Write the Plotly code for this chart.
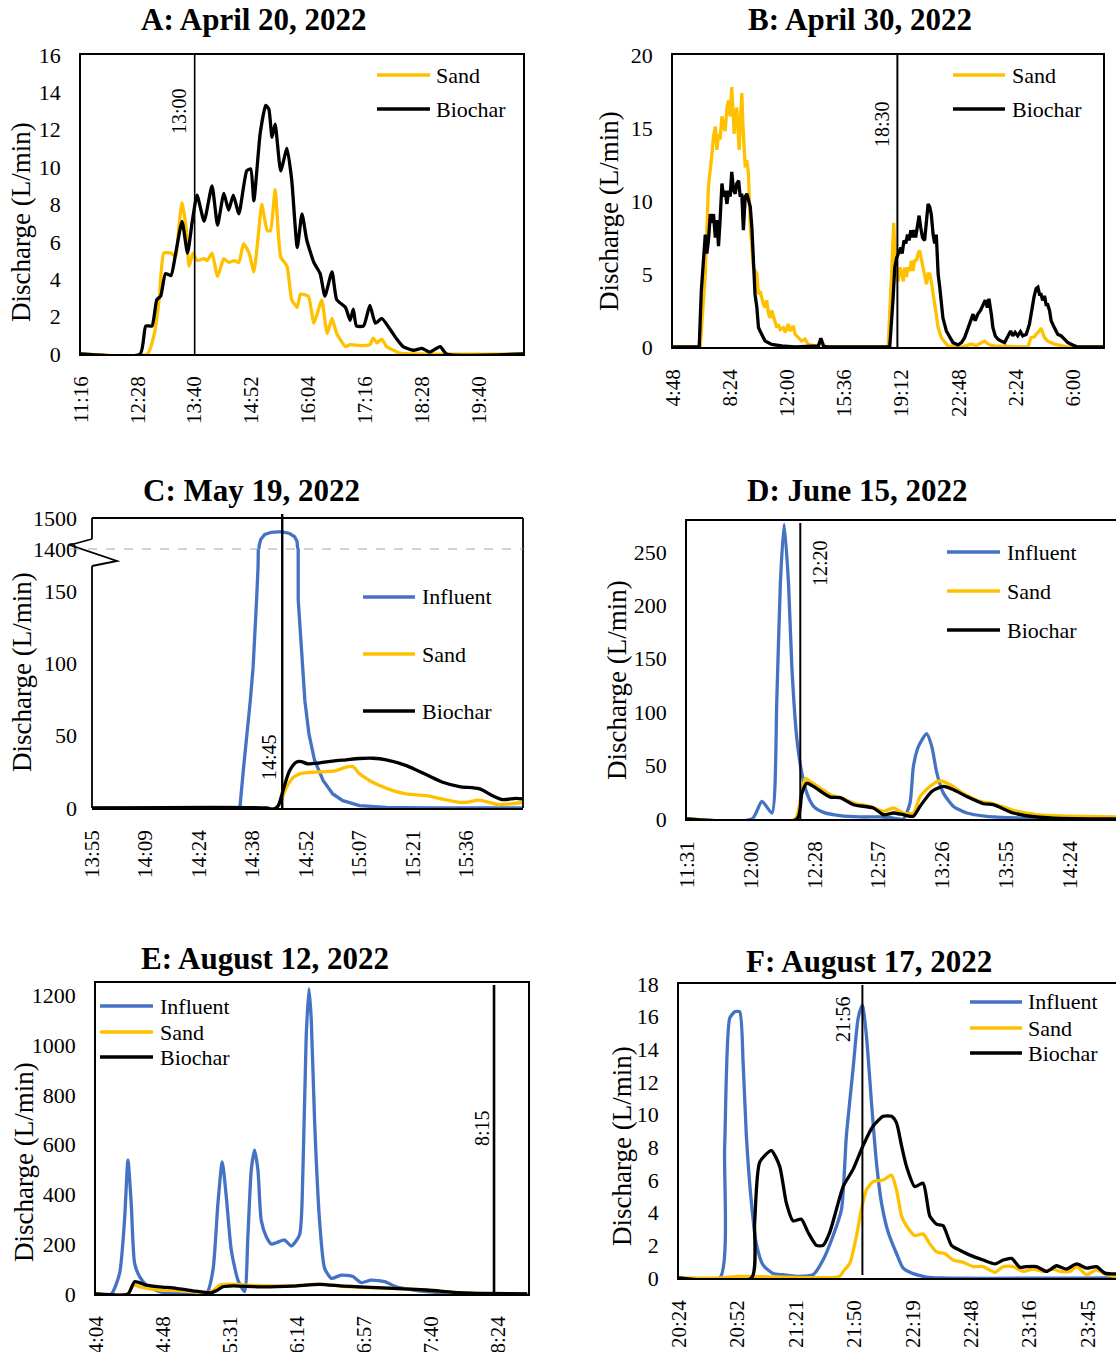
import plotly.graph_objects as go

# ---------------------------------------------------------------------------
# Discharge data (L/min); time axis in minutes after the first tick of each
# panel.
# ---------------------------------------------------------------------------

# A: April 20, 2022 (start 11:16)
a_ticks = ["11:16", "12:28", "13:40", "14:52", "16:04", "17:16", "18:28", "19:40"]
a_sand_t = [0, 84, 93, 99, 105, 114, 120, 124, 128, 133, 137, 142, 147, 156, 160, 166, 173, 181, 187, 194,
            200, 206, 213, 219, 225, 229, 236, 240, 246, 253, 261, 267, 274, 278, 288, 295, 301, 305, 312, 318,
            324, 335, 341, 354, 366, 370, 375, 381, 387, 396, 404, 421, 560]
a_sand_q = [0, 0, 1.1, 2.9, 5.4, 5.4, 5.2, 6.8, 8.1, 6.8, 4.7, 5.4, 5.0, 5.1, 5.0, 5.4, 4.15, 5.1, 4.9, 5.0,
            4.9, 5.9, 5.4, 4.4, 6.5, 8.0, 6.6, 6.6, 8.8, 5.2, 4.7, 2.9, 2.5, 3.2, 3.1, 1.65, 2.4, 2.9, 1.1, 1.9,
            1.1, 0.4, 0.5, 0.45, 0.5, 0.85, 0.6, 0.8, 0.4, 0.2, 0.05, 0, 0]
a_bio_t = [0, 75, 82, 90, 96, 101, 107, 114, 120, 128, 135, 141, 147, 156, 166, 173, 181, 187, 193, 200,
           210, 215, 219, 227, 234, 238, 242, 246, 253, 261, 267, 274, 280, 286, 295, 303, 309, 318, 324, 335,
           341, 345, 349, 358, 366, 373, 381, 392, 400, 408, 421, 432, 442, 455, 463, 560]
a_bio_q = [0, 0, 1.5, 1.5, 2.9, 3.1, 4.3, 4.2, 5.4, 7.1, 5.4, 7.1, 8.5, 7.1, 9.0, 6.9, 8.6, 7.7, 8.5, 7.5,
           9.8, 9.9, 8.2, 11.8, 13.3, 13.1, 11.6, 12.3, 9.8, 11.0, 9.3, 5.7, 7.5, 6.1, 4.9, 4.3, 3.1, 4.4, 2.9, 2.5,
           1.8, 2.4, 1.5, 1.5, 2.6, 1.65, 1.9, 1.3, 0.8, 0.4, 0.2, 0.3, 0.1, 0.4, 0, 0]
a_event_t = 144

# B: April 30, 2022 (start 4:48)
b_ticks = ["4:48", "8:24", "12:00", "15:36", "19:12", "22:48", "2:24", "6:00"]
b_sand_t = [0, 103, 122, 134, 147, 153, 160, 166, 172, 178, 185, 191, 197, 204, 210, 216, 222, 226, 231, 235,
            241, 245, 250, 255, 260, 264, 268, 273, 279, 285, 292, 298, 304, 317, 323, 329, 336, 342, 348, 354,
            361, 367, 373, 386, 392, 398, 405, 417, 424, 436, 442, 455, 461, 474, 486, 499, 511, 537, 555, 562,
            575, 587,
            813, 826, 834, 842, 851, 857, 863, 870, 876, 882, 889, 895, 901, 907, 914, 920, 926, 932, 939, 945,
            951, 958, 964, 970, 976, 983, 989, 995, 1002, 1014, 1027, 1039, 1090, 1115, 1127, 1146, 1165, 1177,
            1196, 1215, 1341, 1353, 1366, 1372, 1385, 1391, 1404, 1416, 1441, 1492, 1625]
b_sand_q = [0, 0, 5.0, 11.0, 13.2, 14.4, 15.1, 13.5, 14.6, 14.2, 15.8, 15.1, 14.8, 16.4, 16.9, 15.8, 17.8, 16.7,
            14.6, 15.8, 16.4, 15.1, 13.5, 15.5, 17.4, 15.3, 14.2, 12.3, 12.8, 11.9, 8.2, 6.6, 5.45, 5.0, 3.6, 3.85,
            3.2, 2.9, 2.7, 3.2, 2.25, 2.0, 2.5, 1.8, 1.33, 1.56, 1.2, 1.33, 1.0, 1.56, 1.1, 1.44, 0.87, 0.64, 0.41,
            0.53, 0.18, 0.07, 0.1, 0.3, 0.05, 0,
            0, 5.0, 8.5, 5.0, 4.5, 5.45, 5.2, 4.5, 5.45, 4.8, 5.45, 5.2, 5.9, 5.2, 6.0, 5.9, 6.4, 6.6, 5.9, 5.45,
            5.0, 4.3, 5.0, 5.0, 4.5, 3.6, 2.9, 2.25, 1.33, 0.64, 0.3, 0.07, 0, 0.1, 0.2, 0.1, 0.3, 0.4, 0.15, 0.07,
            0, 0.64, 0.7, 0.87, 1.1, 1.3, 0.64, 0.4, 0.2, 0, 0]
b_bio_t = [0, 99, 107, 122, 128, 134, 141, 147, 153, 160, 166, 172, 178, 185, 191, 197, 204, 210, 216, 222,
           229, 235, 241, 248, 254, 260, 266, 273, 279, 285, 292, 298, 304, 310, 317, 323, 329, 336, 348, 373,
           411, 461, 549, 559, 569, 587,
           819, 832, 838, 845, 853, 861, 866, 873, 880, 886, 892, 899, 905, 911, 917, 924, 930, 936, 943, 951,
           958, 964, 970, 976, 983, 989, 995, 1002, 1008, 1014, 1020, 1033, 1046, 1058, 1077, 1090, 1102, 1115,
           1127, 1134, 1142, 1152, 1162, 1171, 1180, 1188, 1194, 1203, 1209, 1218, 1228, 1240, 1253, 1266, 1276,
           1284, 1293, 1303, 1313, 1322, 1335, 1347, 1356, 1364, 1372, 1379, 1385, 1391, 1397, 1404, 1410, 1416,
           1423, 1429, 1441, 1454, 1467, 1479, 1492, 1511, 1529, 1625]
b_bio_q = [0, 0, 3.85, 7.7, 6.4, 7.3, 9.1, 8.5, 9.1, 7.5, 8.7, 6.9, 8.7, 11.2, 10.3, 10.7, 9.8, 10.7, 10.3, 12.0,
           10.7, 10.5, 11.2, 11.4, 10.3, 10.5, 8.0, 10.3, 10.5, 10.0, 9.6, 8.2, 5.9, 3.6, 2.7, 1.33, 1.1, 0.87,
           0.41, 0.18, 0.07, 0, 0.07, 0.6, 0.05, 0,
           0, 3.4, 5.45, 6.1, 6.4, 6.8, 6.4, 7.3, 7.1, 7.7, 7.3, 8.0, 7.5, 8.0, 7.5, 8.3, 9.0, 8.2, 7.5, 7.3,
           8.7, 9.8, 9.6, 9.1, 7.7, 7.1, 7.7, 5.0, 4.1, 2.9, 2.0, 1.1, 0.64, 0.3, 0.14, 0.3, 0.64, 1.33, 1.9, 2.25,
           1.8, 2.25, 2.5, 2.9, 3.2, 2.7, 3.3, 2.25, 1.33, 0.76, 0.53, 0.41, 0.3, 0.76, 1.1, 0.76, 1.0, 0.76, 1.05,
           0.76, 0.87, 1.56, 2.7, 3.4, 4.0, 4.1, 3.6, 3.6, 3.2, 3.5, 2.9, 2.9, 2.5, 1.8, 1.33, 0.87, 0.76, 0.53,
           0.3, 0.14, 0, 0]
b_event_t = 848

# C: May 19, 2022 (start 13:55) - broken axis, 0-179 and 1400-1500
c_ticks = ["13:55", "14:09", "14:24", "14:38", "14:52", "15:07", "15:21", "15:36"]
c_inf_t = [0, 39.8, 40.8, 41.8, 42.6, 43.35, 43.9, 44.3, 44.7, 44.96, 45.4, 46.5, 48.3, 51.0, 53.2, 54.5, 55.2,
           55.3, 55.5, 56.1, 56.6, 57.3, 58.4, 59.9, 62.2, 64.8, 67.5, 72.0, 79.2, 90, 116]
c_inf_q = [0, 0, 28, 51, 74, 97, 121, 144, 167, 1408, 1431, 1447, 1454, 1456, 1450, 1440, 1424,
           1408, 144, 121, 97, 74, 51, 33, 19, 9.7, 5.1, 1.6, 0.5, 0, 0]
c_sand_t = [0, 49.6, 50.5, 52.3, 54.1, 55.9, 59.5, 63.1, 65.7, 68.4, 70.2, 72.0, 74.7, 77.4, 81.0, 84.6, 89.9,
            94.4, 98.9, 100.7, 104.3, 106.9, 109.6, 112.3, 116.3]
c_sand_q = [0, 0, 2.8, 14, 21, 23.6, 24.7, 25.2, 25.9, 28.2, 28.7, 23.6, 19, 15.5, 12, 9.7, 8.5,
            6.2, 3.9, 3.9, 5.5, 3.9, 2.3, 2.8, 3.9]
c_bio_t = [0, 47, 48.7, 50.1, 51.4, 53.2, 55.0, 56.3, 58.1, 61.3, 64.8, 68.4, 72.0, 75.6, 79.2, 84.6, 89.9,
           94.4, 98.9, 104.3, 107.8, 110.5, 114.1, 116.3]
c_bio_q = [0, 0, -0.8, 1.6, 12, 25.9, 31.7, 32.1, 30.5, 31.2, 32.4, 33.3, 34.2, 34.4, 33.3, 29.3, 23.1,
           17.8, 14.8, 13.2, 8.5, 5.8, 6.7, 6.2]
c_event_t = 51.2

# D: June 15, 2022 (start 11:31)
d_ticks = ["11:31", "12:00", "12:28", "12:57", "13:26", "13:55", "14:24"]
d_inf_t = [0, 29.3, 33.8, 38.3, 40.5, 42.1, 43.8, 45.8, 47.3, 49.6, 51.8, 54.1, 57.1, 61.6, 69.1, 78.1, 87.1,
           93.1, 97.6, 100.6, 102.1, 104.4, 108.1, 110.4, 112.7, 115.7, 120.2, 126.2, 135.2, 150.2, 165.2, 195]
d_inf_q = [0, 0, 16.5, 5.6, 111, 220, 276, 220, 142, 74, 43, 24, 11.8, 6.2, 3.1, 1.9, 1.9,
           0.9, 0, 15, 49, 68, 80, 68, 43, 24, 11.8, 5.6, 2.5, 0.9, 0, 0]
d_sand_t = [0, 48.8, 51.1, 53.3, 55.6, 60.1, 64.6, 69.1, 75.1, 82.6, 88.6, 93.1, 97.6, 102.1, 105.1, 109.6,
            114.2, 118.7, 124.7, 132.2, 138.2, 147.2, 157.7, 165.2, 180.3, 193.5]
d_sand_q = [0, 0, 18, 38, 35, 29, 22.7, 20, 15, 11.8, 7.2, 10.3, 5.6, 5.6, 21, 30.5,
            35.8, 32, 24, 16.5, 14.3, 8.1, 4, 3.1, 2.5, 1.9]
d_bio_t = [0, 49.6, 51.8, 54.1, 57.1, 61.6, 64.6, 69.1, 75.1, 84.1, 88.6, 93.1, 97.6, 102.1, 105.1, 110.4,
           115.7, 120.2, 126.2, 133.7, 138.2, 147.2, 157.7, 165.2, 193.5]
d_bio_q = [0, 0, 24, 33.6, 30.5, 24, 20.5, 20, 13.4, 10.3, 4, 5.6, 4, 2.5, 11.8, 25.8,
           30.5, 27.4, 21, 14.3, 13.4, 5.6, 1.9, 0.9, 0]
d_event_t = 51.1

# E: August 12, 2022 (start 4:04)
e_ticks = ["4:04", "4:48", "5:31", "6:14", "6:57", "7:40", "8:24"]
e_inf_t = [0, 9.8, 15.2, 18.4, 20.6, 22.7, 24.9, 28.1, 32.4, 41.0, 51.7, 71.1, 75.4, 78.6, 81.4, 84.0, 87.2,
           91.5, 95.8, 97.9, 100.1, 102.2, 104.4, 106.5, 109.8, 113.0, 116.2, 121.6, 125.9, 131.2, 133.4, 135.5,
           137.3, 138.8, 140.9, 144.1, 147.4, 151.7, 158.1, 165.6, 171.0, 177.5, 186.1, 193.6, 202.2, 212.9,
           223.7, 234.4, 278]
e_inf_q = [0, 0, 83, 297, 538, 364, 123, 70, 36, 9.4, 2.7, 0, 96, 364, 531, 391, 177,
           56, 9.4, 230, 498, 578, 498, 297, 230, 201, 206, 217, 193, 237, 498, 1033,
           1227, 1100, 698, 297, 103, 63, 76, 70, 45.5, 56, 49.5, 29, 18.7, 9.4,
           5, 2.7, 0]
e_sand_t = [0, 20.6, 23.8, 28.1, 41.0, 58.2, 71.1, 75.4, 79.7, 88.3, 96.9, 114.1, 127.0, 144.1, 157.0, 169.9,
            191.4, 212.9, 234.4, 245.2, 278]
e_sand_q = [0, 0, 36, 29, 16, 13, 5, 13, 36, 40, 36, 33, 33, 40, 32, 27, 23, 16, 5, 2.7, 0]
e_bio_t = [0, 20.6, 24.9, 32.4, 41.0, 51.7, 62.5, 74.3, 77.5, 81.8, 88.3, 105.5, 127.0, 144.1, 159.2, 169.9,
           191.4, 212.9, 234.4, 245.2, 278]
e_bio_q = [0, 0, 49.5, 36, 29, 23, 13, 5, 13, 29, 33, 29, 32, 39, 32, 29, 23, 16, 5, 2.7, 0]
e_event_t = 256.6

# F: August 17, 2022 (start 20:24)
f_ticks = ["20:24", "20:52", "21:21", "21:50", "22:19", "22:48", "23:16", "23:45"]
f_inf_t = [0, 20.1, 22.5, 25.0, 27.5, 29.9, 31.6, 33.2, 35.7, 38.1, 41.4, 46.4, 51.3, 57.9, 66.1, 71.0, 76.0,
           80.1, 82.5, 85.8, 88.3, 90.4, 92.4, 94.9, 97.3, 99.8, 103.1, 107.2, 110.5, 115.4, 122.0, 128.6, 215.4]
f_inf_q = [0, 0, 8.0, 15.9, 16.3, 16.3, 13.2, 8.7, 4.6, 2.1, 0.8, 0.27, 0.2, 0.1, 0.2, 1.1, 2.6,
           4.2, 8.7, 12.8, 15.9, 16.7, 14.8, 10.7, 7.1, 4.6, 2.8, 1.5, 0.6, 0.27, 0.06, 0, 0]
f_sand_t = [0, 20, 29.9, 79.2, 80.9, 84.2, 87.5, 89.9, 92.4, 95.7, 100.6, 104.7, 107.2, 109.7, 112.1, 116.2,
            120.3, 123.6, 126.9, 131.0, 135.1, 140.1, 145.0, 149.9, 155.7, 159.8, 164.7, 169.7, 174.6, 179.5,
            184.5, 187.7, 192.7, 196.0, 200.9, 205.8, 210.8, 215.4]
f_sand_q = [0, 0, 0.1, 0.1, 0.4, 0.9, 2.6, 4.2, 5.4, 5.9, 6.0, 6.3, 5.4, 3.8, 3.2, 2.6,
            2.7, 2.1, 1.6, 1.5, 1.1, 0.96, 0.7, 0.7, 0.35, 0.7, 0.7, 0.4, 0.55, 0.4,
            0.55, 0.4, 0.4, 0.7, 0.2, 0.5, 0.2, 0.1]
f_bio_t = [0, 35.7, 37.3, 39.8, 45.5, 49.6, 52.9, 56.2, 60.3, 63.6, 67.7, 71.0, 74.3, 77.6, 80.9, 85.8, 90.7,
           95.7, 100.6, 104.7, 107.2, 109.7, 112.1, 116.2, 120.3, 123.6, 126.9, 130.2, 134.3, 138.4, 143.4,
           149.9, 155.7, 159.8, 163.9, 168.0, 171.3, 176.2, 181.2, 186.1, 191.0, 196.0, 200.9, 205.8, 209.9, 215.4]
f_bio_q = [0, 0, 3.4, 7.1, 7.8, 6.85, 4.6, 3.5, 3.6, 2.8, 2.0, 2.0, 2.8, 4.2, 5.6, 6.65, 8.1,
           9.3, 9.9, 9.9, 9.5, 8.1, 6.85, 5.6, 5.8, 3.8, 3.3, 3.2, 2.0, 1.7, 1.4,
           1.1, 0.86, 1.1, 1.2, 0.65, 0.7, 0.7, 0.4, 0.75, 0.55, 0.86, 0.6, 0.7, 0.3, 0.25]
f_event_t = 90.4

# ---------------------------------------------------------------------------
# Styling and page geometry
# ---------------------------------------------------------------------------
W, H = 1116, 1352
FONT = "Liberation Serif, Times New Roman, Times, serif"
BLUE, GOLD, BLACK = "#4472C4", "#FFC000", "#000000"
LINE_W = 3.3
FRAME_W = 1.8


def X(p):
    return p / W


def Y(p):
    return 1 - p / H


fig = go.Figure()


def add_series(t, q, color, xa, ya, shape="spline", smoothing=0.6):
    fig.add_trace(go.Scatter(
        x=t, y=q, mode="lines", xaxis=xa, yaxis=ya, showlegend=False, hoverinfo="skip",
        line=dict(color=color, width=LINE_W, shape=shape,
                  smoothing=smoothing if shape == "spline" else None)))


# A
add_series(a_sand_t, a_sand_q, GOLD, "x", "y", smoothing=0.5)
add_series(a_bio_t, a_bio_q, BLACK, "x", "y", smoothing=0.5)
# B
add_series(b_sand_t, b_sand_q, GOLD, "x2", "y2", shape="linear")
add_series(b_bio_t, b_bio_q, BLACK, "x2", "y2", shape="linear")
# C (influent drawn on both halves of the broken axis)
add_series(c_inf_t, c_inf_q, BLUE, "x3", "y3", shape="linear")
add_series(c_inf_t, c_inf_q, BLUE, "x3", "y7", shape="linear")
add_series(c_sand_t, c_sand_q, GOLD, "x3", "y3", smoothing=0.8)
add_series(c_bio_t, c_bio_q, BLACK, "x3", "y3", smoothing=0.8)
# D
add_series(d_inf_t, d_inf_q, BLUE, "x4", "y4", smoothing=0.6)
add_series(d_sand_t, d_sand_q, GOLD, "x4", "y4", smoothing=0.6)
add_series(d_bio_t, d_bio_q, BLACK, "x4", "y4", smoothing=0.6)
# E
add_series(e_inf_t, e_inf_q, BLUE, "x5", "y5", smoothing=0.6)
add_series(e_sand_t, e_sand_q, GOLD, "x5", "y5", smoothing=0.6)
add_series(e_bio_t, e_bio_q, BLACK, "x5", "y5", smoothing=0.6)
# F
add_series(f_inf_t, f_inf_q, BLUE, "x6", "y6", smoothing=0.6)
add_series(f_sand_t, f_sand_q, GOLD, "x6", "y6", smoothing=0.6)
add_series(f_bio_t, f_bio_q, BLACK, "x6", "y6", smoothing=0.6)

TICKFONT_X = dict(family=FONT, size=21, color="black")
TICKFONT_Y = dict(family=FONT, size=22, color="black")


def xaxis(box, rng, step, labels, anchor, mirror=True, showline=True):
    return dict(domain=[X(box[0]), X(box[1])], range=rng, anchor=anchor, automargin=False,
                tickmode="array", tickvals=[i * step for i in range(len(labels))], ticktext=labels,
                tickangle=-90, tickfont=TICKFONT_X, ticks="", ticklabelstandoff=12,
                showline=showline, linecolor="black", linewidth=FRAME_W, mirror=mirror,
                showgrid=False, zeroline=False, fixedrange=True)


def yaxis(box, rng, vals, anchor, mirror=True, showline=True):
    return dict(domain=[Y(box[1]), Y(box[0])], range=rng, anchor=anchor, automargin=False,
                tickmode="array", tickvals=vals, tickfont=TICKFONT_Y, ticks="", ticklabelstandoff=14,
                showline=showline, linecolor="black", linewidth=FRAME_W, mirror=mirror,
                showgrid=False, zeroline=False, fixedrange=True)


# Plot boxes in page pixels: (left, right) and (top, bottom)
A_X, A_Y = (81, 523), (55, 354)
B_X, B_Y = (673, 1103), (55, 347)
C_X, C_Y, C_BREAK = (92, 523), (518, 808), 549
D_X, D_Y = (687, 1116), (521, 819)
E_X, E_Y = (96, 528), (983, 1294)
F_X, F_Y = (679, 1116), (984, 1278)

layout = dict(
    width=W, height=H, autosize=False,
    margin=dict(l=0, r=0, t=0, b=0, pad=0, autoexpand=False),
    paper_bgcolor="white", plot_bgcolor="white", showlegend=False,
    font=dict(family=FONT, color="black"),
    xaxis=xaxis(A_X, [0, 560], 72, a_ticks, "y"),
    yaxis=yaxis(A_Y, [0, 16], list(range(0, 17, 2)), "x"),
    xaxis2=xaxis(B_X, [0, 1625], 216, b_ticks, "y2"),
    yaxis2=yaxis(B_Y, [0, 20], [0, 5, 10, 15, 20], "x2"),
    xaxis3=xaxis(C_X, [0, 116], 14.4, c_ticks, "y3", mirror=False),
    yaxis3=yaxis((C_BREAK, C_Y[1]), [0, 179], [0, 50, 100, 150], "x3", showline=False),
    yaxis7=yaxis((C_Y[0], C_BREAK), [1400, 1500], [1400, 1500], "x3", showline=False),
    xaxis4=xaxis(D_X, [0, 193.5], 28.8, d_ticks, "y4"),
    yaxis4=yaxis(D_Y, [0, 279], [0, 50, 100, 150, 200, 250], "x4", mirror=False),
    xaxis5=xaxis(E_X, [0, 278.5], 43.2, e_ticks, "y5"),
    yaxis5=yaxis(E_Y, [0, 1250], list(range(0, 1201, 200)), "x5"),
    xaxis6=xaxis(F_X, [0, 215.4], 28.8, f_ticks, "y6"),
    yaxis6=yaxis(F_Y, [0, 18], list(range(0, 19, 2)), "x6", mirror=False),
)
fig.update_layout(**layout)

shapes = []
annotations = []


def paper_line(x0, y0, x1, y1, color="black", width=FRAME_W, dash=None):
    shapes.append(dict(type="line", xref="paper", yref="paper", x0=X(x0), y0=Y(y0), x1=X(x1), y1=Y(y1),
                       line=dict(color=color, width=width, dash=dash), layer="above"))


# Frame of panel C with the axis break on the left side
paper_line(C_X[0], C_Y[0], C_X[1], C_Y[0])
paper_line(C_X[1], C_Y[0], C_X[1], C_Y[1])
paper_line(C_X[0], C_Y[0], C_X[0], 539)
paper_line(C_X[0], 566, C_X[0], C_Y[1])
zig = [(92, 539), (70, 545), (117, 561), (92, 566)]
shapes.append(dict(type="path", xref="paper", yref="paper",
                   path="M " + " L ".join(f"{X(px):.5f},{Y(py):.5f}" for px, py in zig),
                   line=dict(color="black", width=FRAME_W), layer="above"))
paper_line(70, C_BREAK, C_X[1], C_BREAK, color="#A6A6A6", width=1.2, dash="dash")

# Event marker lines
for xa, t, y_top, y_bot, w in [("x", a_event_t, A_Y[0], A_Y[1], 1.6),
                               ("x2", b_event_t, B_Y[0], B_Y[1], 2),
                               ("x3", c_event_t, 514, C_Y[1], 2.4),
                               ("x4", d_event_t, 523, D_Y[1], 2),
                               ("x5", e_event_t, 985, E_Y[1], 2.6),
                               ("x6", f_event_t, 985, 1275, 2)]:
    shapes.append(dict(type="line", xref=xa, yref="paper", x0=t, x1=t, y0=Y(y_bot), y1=Y(y_top),
                       line=dict(color="black", width=w), layer="above"))


def text(x, y, s, size, angle=0, xanchor="center", bold=False):
    annotations.append(dict(xref="paper", yref="paper", x=X(x), y=Y(y), text=f"<b>{s}</b>" if bold else s,
                            showarrow=False, textangle=angle, xanchor=xanchor, yanchor="middle",
                            font=dict(family=FONT, size=size, color="black")))


# Event marker labels
text(179, 111, "13:00", 20, angle=-90)
text(882, 124, "18:30", 20, angle=-90)
text(269, 757, "14:45", 20, angle=-90)
text(820, 563, "12:20", 20, angle=-90)
text(482, 1128, "8:15", 20, angle=-90)
text(843, 1019, "21:56", 20, angle=-90)

# Panel titles
text(254, 20, "A: April 20, 2022", 31, bold=True)
text(860, 20, "B: April 30, 2022", 31, bold=True)
text(251, 491, "C: May 19, 2022", 31, bold=True)
text(857, 491, "D: June 15, 2022", 31, bold=True)
text(265, 958, "E: August 12, 2022", 31, bold=True)
text(869, 961, "F: August 17, 2022", 31, bold=True)

# Axis titles
for x, y in [(21, 222), (609, 211), (22, 672), (617, 680), (24, 1162), (622, 1146)]:
    text(x, y, "Discharge (L/min)", 27, angle=-90)

# Legends: (line start, line end, text x, [(y, label), ...])
SERIES_COLOURS = {"Influent": BLUE, "Sand": GOLD, "Biochar": BLACK}
legends = [
    (377, 430, 434, [(75, "Sand"), (109, "Biochar")]),
    (953, 1005, 1010, [(75, "Sand"), (109, "Biochar")]),
    (363, 415, 420, [(597, "Influent"), (654, "Sand"), (711, "Biochar")]),
    (947, 1000, 1005, [(552, "Influent"), (591, "Sand"), (630, "Biochar")]),
    (100, 153, 158, [(1006, "Influent"), (1032, "Sand"), (1057, "Biochar")]),
    (970, 1022, 1026, [(1002, "Influent"), (1028, "Sand"), (1053, "Biochar")]),
]
for x0, x1, tx, rows in legends:
    for y, name in rows:
        paper_line(x0, y, x1, y, color=SERIES_COLOURS[name], width=3.5)
        text(tx, y, name, 22, xanchor="left")

fig.update_layout(shapes=shapes, annotations=annotations)
fig.write_html("out.html", config={"displayModeBar": False, "staticPlot": True})
